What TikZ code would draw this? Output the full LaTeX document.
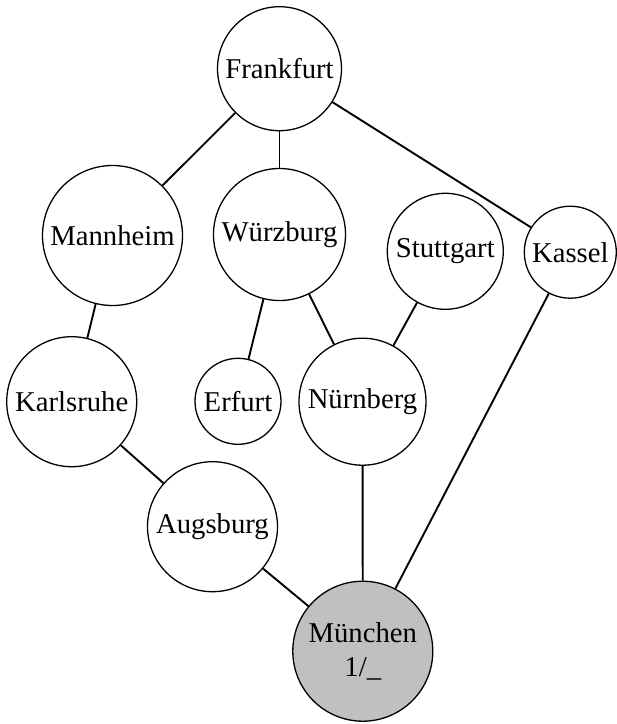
\documentclass[tikz,border=0pt]{standalone}
\usepackage{fontspec}
\setmainfont{Liberation Serif}
\begin{document}
\begin{tikzpicture}[x=1pt,y=-1pt,
  city/.style={circle,draw=black,line width=1.3pt,fill=white,inner sep=0pt,
    font=\fontsize{28.7}{34}\selectfont,align=center},
  link/.style={line width=1.9pt,black}]
\useasboundingbox (0,0) rectangle (617,724);
\node[city,minimum size=124pt] (fra) at (279.5,68.7) {Frankfurt};
\node[city,minimum size=140pt] (man) at (112.5,235.5) {Mannheim};
\node[city,minimum size=132pt] (wue) at (279.5,234.5) {Würzburg};
\node[city,minimum size=116pt] (stu) at (445.3,251.3) {Stuttgart};
\node[city,minimum size=92pt] (kas) at (570.3,252.2) {Kassel};
\node[city,minimum size=130pt] (kar) at (71.7,401.7) {Karlsruhe};
\node[city,minimum size=86pt] (erf) at (238,401.3) {Erfurt};
\node[city,minimum size=127pt] (nue) at (362.5,401.7) {Nürnberg};
\node[city,minimum size=130pt] (aug) at (212.5,526.7) {Augsburg};
\node[city,minimum size=140pt,fill={rgb,255:red,192;green,192;blue,192}] (mue) at (362.8,651.2) {München\\1/\_};
\draw[link] (fra) -- (man);
\draw[link] (fra) -- (wue);
\draw[link] (fra) -- (kas);
\draw[link] (man) -- (kar);
\draw[link] (wue) -- (erf);
\draw[link] (wue) -- (nue);
\draw[link] (stu) -- (nue);
\draw[link] (kas) -- (mue);
\draw[link] (kar) -- (aug);
\draw[link] (aug) -- (mue);
\draw[link] (nue) -- (mue);
\end{tikzpicture}
\end{document}
